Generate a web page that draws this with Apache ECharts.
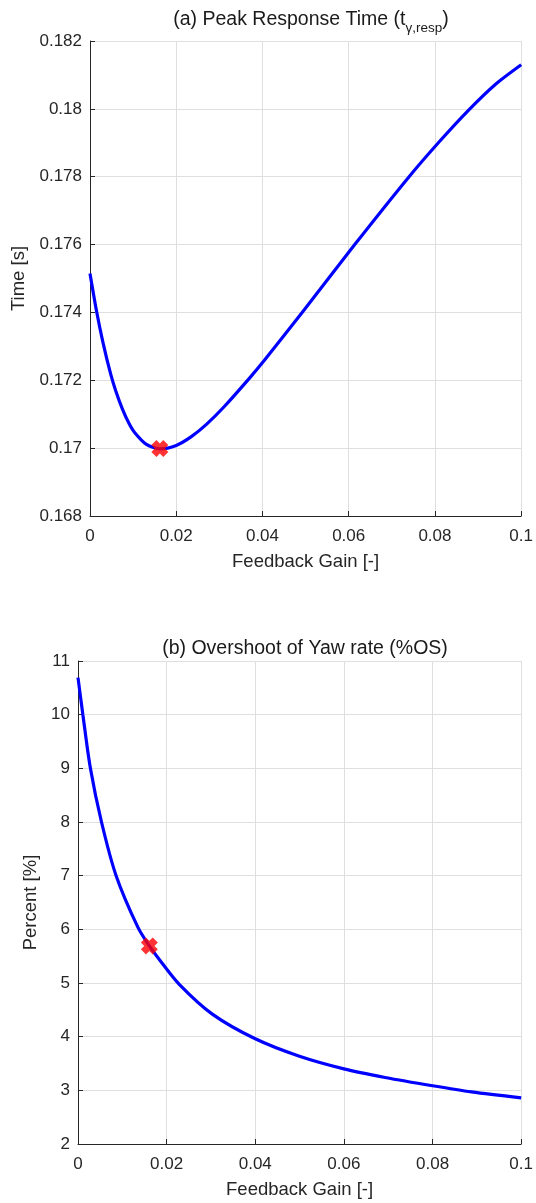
<!DOCTYPE html>
<html>
<head>
<meta charset="utf-8">
<script src="https://cdn.jsdelivr.net/npm/echarts@6/dist/echarts.min.js"></script>
<style>
  html, body { margin: 0; padding: 0; background: #fff; }
  #main { width: 536px; height: 1203px; }
</style>
</head>
<body>
<div id="main"></div>
<script>
// (a) peak response time vs feedback gain
var gainA = [0, 0.0015, 0.003, 0.0048, 0.006, 0.0075, 0.009, 0.0103, 0.013, 0.0162, 0.02, 0.0235, 0.027, 0.0311, 0.0369, 0.0404, 0.0492, 0.0614, 0.074, 0.081, 0.0877, 0.094, 0.1]
var timeA = [0.17515, 0.17405, 0.17312, 0.17218, 0.17168, 0.17116, 0.17074, 0.17047, 0.17012, 0.16998, 0.17008, 0.17034, 0.1707, 0.17122, 0.17205, 0.17258, 0.1740, 0.1760, 0.1780, 0.17903, 0.17995, 0.18072, 0.1813]
var optA = [0.0162, 0.16999]

// (b) overshoot of yaw rate vs feedback gain
var gainB = [0, 0.0011, 0.0028, 0.0053, 0.0086, 0.0135, 0.0161, 0.0186, 0.0229, 0.0303, 0.04, 0.0498, 0.06, 0.0693, 0.08, 0.0888, 0.1]
var overshootB = [10.69, 10.0, 9.0, 8.0, 7.0, 6.04, 5.69, 5.41, 4.97, 4.42, 3.96, 3.64, 3.40, 3.24, 3.085, 2.97, 2.86]
var optB = [0.0161, 5.69]

var font = '"Liberation Sans", Arial, sans-serif'
var ink = '#262626'
// bold "x" marker
var xMark = 'path://M0,3 L3,0 L5,2 L7,0 L10,3 L8,5 L10,7 L7,10 L5,8 L3,10 L0,7 L2,5 Z'

function pairs(xs, ys) {
  return xs.map(function (x, i) { return [x, ys[i]] })
}

function xAxisCfg(idx) {
  return {
    gridIndex: idx,
    type: 'value',
    min: 0,
    max: 0.1,
    interval: 0.02,
    name: 'Feedback Gain [-]',
    nameLocation: 'middle',
    nameGap: 36,
    nameTextStyle: { color: ink, fontSize: 18.5, fontFamily: font },
    axisLine: { show: true, onZero: false, lineStyle: { color: ink, width: 1 } },
    axisTick: { show: true, inside: true, length: 5, lineStyle: { color: ink } },
    axisLabel: {
      color: ink, fontSize: 17, fontFamily: font, margin: 12,
      formatter: function (v) { return String(+v.toFixed(2)) }
    },
    splitLine: { show: true, lineStyle: { color: '#dfdfdf', width: 1 } }
  }
}

var chart = echarts.init(document.getElementById('main'))

var option = {
  backgroundColor: '#fff',
  animation: false,
  title: [{
    text: '(a) Peak Response Time (t{sub|γ,resp})',
    left: 306,
    textAlign: 'center',
    top: 0,
    textStyle: {
      color: '#1a1a1a', fontSize: 19.5, fontWeight: 'normal', fontFamily: font, lineHeight: 26,
      rich: {
        sub: { fontSize: 13.5, fontFamily: font, color: '#1a1a1a', verticalAlign: 'bottom', lineHeight: 30 }
      }
    }
  }, {
    text: '(b) Overshoot of Yaw rate (%OS)',
    left: 300,
    textAlign: 'center',
    top: 634,
    textStyle: { color: '#1a1a1a', fontSize: 19.5, fontWeight: 'normal', fontFamily: font }
  }],
  grid: [
    { left: 90, top: 41, width: 433, height: 475 },
    { left: 78, top: 661, width: 445, height: 483 }
  ],
  xAxis: [xAxisCfg(0), xAxisCfg(1)],
  yAxis: [{
    gridIndex: 0,
    type: 'value',
    min: 0.168,
    max: 0.182,
    interval: 0.002,
    name: 'Time [s]',
    nameLocation: 'middle',
    nameGap: 52,
    nameTextStyle: { color: ink, fontSize: 18.5, fontFamily: font },
    axisLine: { show: true, onZero: false, lineStyle: { color: ink, width: 1 } },
    axisTick: { show: true, inside: true, length: 5, lineStyle: { color: ink } },
    axisLabel: {
      color: ink, fontSize: 17, fontFamily: font, margin: 8,
      formatter: function (v) { return String(+v.toFixed(3)) }
    },
    splitLine: { show: true, lineStyle: { color: '#dfdfdf', width: 1 } }
  }, {
    gridIndex: 1,
    type: 'value',
    min: 2,
    max: 11,
    interval: 1,
    name: 'Percent [%]',
    nameLocation: 'middle',
    nameGap: 28,
    nameTextStyle: { color: ink, fontSize: 18.5, fontFamily: font },
    axisLine: { show: true, onZero: false, lineStyle: { color: ink, width: 1 } },
    axisTick: { show: true, inside: true, length: 5, lineStyle: { color: ink } },
    axisLabel: { color: ink, fontSize: 17, fontFamily: font, margin: 8 },
    splitLine: { show: true, lineStyle: { color: '#dfdfdf', width: 1 } }
  }],
  series: [{
    type: 'line',
    xAxisIndex: 0,
    yAxisIndex: 0,
    data: pairs(gainA, timeA),
    smooth: 0.25,
    showSymbol: false,
    lineStyle: { color: '#0000ff', width: 3.2 }
  }, {
    type: 'scatter',
    xAxisIndex: 0,
    yAxisIndex: 0,
    data: [optA],
    symbol: xMark,
    symbolSize: 17,
    itemStyle: { color: '#ff0000' },
    z: 5
  }, {
    type: 'line',
    xAxisIndex: 1,
    yAxisIndex: 1,
    data: pairs(gainB, overshootB),
    smooth: 0.3,
    showSymbol: false,
    lineStyle: { color: '#0000ff', width: 3.2 }
  }, {
    type: 'scatter',
    xAxisIndex: 1,
    yAxisIndex: 1,
    data: [optB],
    symbol: xMark,
    symbolSize: 17,
    itemStyle: { color: '#ff0000' },
    z: 5
  }]
}

chart.setOption(option)
</script>
</body>
</html>
